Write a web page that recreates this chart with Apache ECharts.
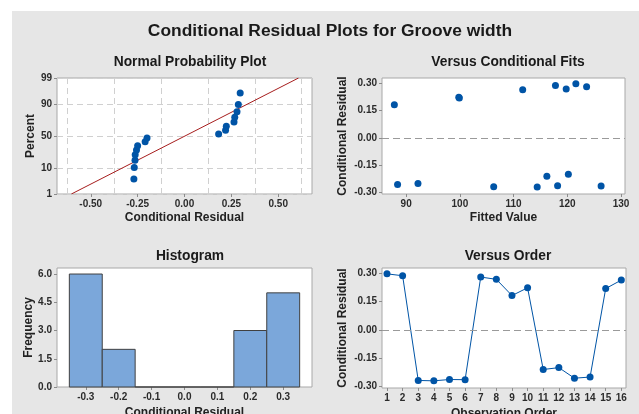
<!DOCTYPE html>
<html>
<head>
<meta charset="utf-8">
<script src="https://cdn.jsdelivr.net/npm/echarts@6/dist/echarts.min.js"></script>
<style>
  html, body { margin: 0; padding: 0; background: #ffffff; }
  #chart { width: 639px; height: 414px; }
</style>
</head>
<body>
<div id="chart"></div>
<script>
// ---- data ----
const observationOrder = [1, 2, 3, 4, 5, 6, 7, 8, 9, 10, 11, 12, 13, 14, 15, 16];
const residuals = [0.297, 0.287, -0.268, -0.270, -0.263, -0.264, 0.280, 0.268,
                   0.182, 0.223, -0.210, -0.200, -0.256, -0.250, 0.219, 0.264];
const fittedValues = [121.6, 117.8, 106.3, 114.4, 118.2, 126.3, 123.6, 119.8,
                      87.8, 99.8, 116.2, 120.2, 88.4, 92.2, 99.9, 111.7];
const histBinCenters = [-0.3, -0.2, -0.1, 0.0, 0.1, 0.2, 0.3];
const histCounts = [6, 2, 0, 0, 0, 3, 5];

// tick labels
const probPercentTicks = [1, 10, 50, 90, 99];
const probResidTicks = [-0.50, -0.25, 0.00, 0.25, 0.50];
const probGridResid = [-0.625, -0.375, -0.125, 0.125, 0.375, 0.625];
const residTicks = [-0.30, -0.15, 0.00, 0.15, 0.30];
const fitTicks = [90, 100, 110, 120, 130];
const freqTicks = [0.0, 1.5, 3.0, 4.5, 6.0];
const histResidTicks = [-0.3, -0.2, -0.1, 0.0, 0.1, 0.2, 0.3];

// ---- normal quantile (Acklam) ----
function qnorm(p) {
  const a = [-3.969683028665376e+01, 2.209460984245205e+02, -2.759285104469687e+02,
             1.383577518672690e+02, -3.066479806614716e+01, 2.506628277459239e+00];
  const b = [-5.447609879822406e+01, 1.615858368580409e+02, -1.556989798598866e+02,
             6.680131188771972e+01, -1.328068155288572e+01];
  const c = [-7.784894002430293e-03, -3.223964580411365e-01, -2.400758277161838e+00,
             -2.549671010115292e+00, 4.374664141464968e+00, 2.938163982698783e+00];
  const d = [7.784695709041462e-03, 3.224671290700398e-01, 2.445134137142996e+00,
             3.754408661907416e+00];
  const pl = 0.02425, ph = 1 - pl;
  let q, r;
  if (p < pl) {
    q = Math.sqrt(-2 * Math.log(p));
    return (((((c[0]*q+c[1])*q+c[2])*q+c[3])*q+c[4])*q+c[5]) / ((((d[0]*q+d[1])*q+d[2])*q+d[3])*q+1);
  }
  if (p <= ph) {
    q = p - 0.5; r = q * q;
    return (((((a[0]*r+a[1])*r+a[2])*r+a[3])*r+a[4])*r+a[5])*q / (((((b[0]*r+b[1])*r+b[2])*r+b[3])*r+b[4])*r+1);
  }
  q = Math.sqrt(-2 * Math.log(1 - p));
  return -(((((c[0]*q+c[1])*q+c[2])*q+c[3])*q+c[4])*q+c[5]) / ((((d[0]*q+d[1])*q+d[2])*q+d[3])*q+1);
}

// probability plot positions (Benard median ranks)
const n = residuals.length;
const sorted = residuals.slice().sort((x, y) => x - y);
const probPoints = sorted.map((r, i) => [r, qnorm((i + 1 - 0.3) / (n + 0.4))]);
const mean = residuals.reduce((s, v) => s + v, 0) / n;
const sd = Math.sqrt(residuals.reduce((s, v) => s + (v - mean) ** 2, 0) / (n - 1));
const zLo = qnorm(probPercentTicks[0] / 100);
const zHi = qnorm(probPercentTicks[probPercentTicks.length - 1] / 100);
const fitLine = [[mean + sd * zLo, zLo], [mean + sd * zHi, zHi]];
const zTicks = probPercentTicks.map(p => qnorm(p / 100));

// ---- styling ----
const FONT = 'Liberation Sans';
const BLUE = '#0054a6';
const labelStyle = { color: '#2b2b2b', fontSize: 10, fontFamily: FONT, fontWeight: 'bold' };
const nameStyle = { color: '#222', fontSize: 12, fontFamily: FONT, fontWeight: 'bold' };
const tickStyle = { show: true, length: 3, lineStyle: { color: '#8c8c8c' } };
const noLine = { show: false, onZero: false };
const dashedGrid = { show: true, lineStyle: { color: '#d0d0d0', type: [6, 4], width: 1 } };

function fmt(d) { return v => Number(v).toFixed(d); }

function xAxisBase(gridIndex, min, max, ticks, digits, name, nameGap) {
  return {
    type: 'value', gridIndex, min, max, position: 'bottom',
    axisLine: noLine,
    axisTick: Object.assign({ customValues: ticks }, tickStyle),
    axisLabel: Object.assign({ customValues: ticks, formatter: fmt(digits), margin: 5 }, labelStyle),
    splitLine: { show: false },
    name, nameLocation: 'middle', nameGap, nameTextStyle: nameStyle
  };
}
function yAxisBase(gridIndex, min, max, ticks, formatter, name, nameGap) {
  return {
    type: 'value', gridIndex, min, max, position: 'left',
    axisLine: noLine,
    axisTick: Object.assign({ customValues: ticks }, tickStyle),
    axisLabel: Object.assign({ customValues: ticks, formatter, margin: 5 }, labelStyle),
    splitLine: { show: false },
    name, nameLocation: 'middle', nameGap, nameTextStyle: nameStyle
  };
}

const gridStyle = {
  show: true, backgroundColor: '#ffffff', borderColor: '#a8a8a8', borderWidth: 1,
  containLabel: false, outerBoundsMode: 'none'
};
const titleText = (text, x, y, size) => ({
  text, left: x, top: y, textAlign: 'center',
  textStyle: { fontFamily: FONT, fontSize: size, fontWeight: 'bold', color: '#1a1a1a' }
});

const probYAxis = yAxisBase(0, zLo, zHi, zTicks,
  v => { const i = zTicks.findIndex(t => Math.abs(t - v) < 1e-6); return i >= 0 ? String(probPercentTicks[i]) : ''; },
  'Percent', 20);
probYAxis.splitLine = dashedGrid;

const probXGrid = {
  type: 'value', gridIndex: 0, min: -0.68, max: 0.68, position: 'bottom',
  axisLine: noLine, axisLabel: { show: false },
  axisTick: { show: false, customValues: probGridResid },
  splitLine: dashedGrid
};

const histItems = histBinCenters.map((c, i) => [c - 0.05, c + 0.05, histCounts[i]]);

const zeroRef = {
  silent: true, symbol: 'none', label: { show: false },
  lineStyle: { color: '#9a9a9a', type: [7, 4], width: 1 },
  data: [{ yAxis: 0 }]
};

const option = {
  backgroundColor: '#ffffff',
  animation: false,
  graphic: [{ type: 'rect', z: -10, silent: true, shape: { x: 12, y: 11, width: 627, height: 403 }, style: { fill: '#e6e6e6' } }],
  title: [
    titleText('Conditional Residual Plots for Groove width', 325, 18, 17.4),
    titleText('Normal Probability Plot', 185, 50, 13.8),
    titleText('Versus Conditional Fits', 503, 50, 13.8),
    titleText('Histogram', 185, 244, 13.8),
    titleText('Versus Order', 503, 244, 13.8)
  ],
  grid: [
    Object.assign({ left: 57, top: 78, width: 255, height: 116 }, gridStyle),
    Object.assign({ left: 382, top: 78, width: 243, height: 116 }, gridStyle),
    Object.assign({ left: 57, top: 268, width: 255, height: 119 }, gridStyle),
    Object.assign({ left: 382, top: 268, width: 244, height: 120 }, gridStyle)
  ],
  xAxis: [
    xAxisBase(0, -0.68, 0.68, probResidTicks, 2, 'Conditional Residual', 18),
    xAxisBase(1, 85.5, 130.75, fitTicks, 0, 'Fitted Value', 18),
    xAxisBase(2, -0.3875, 0.3875, histResidTicks, 1, 'Conditional Residual', 20),
    xAxisBase(3, 0.68, 16.3, observationOrder, 0, 'Observation Order', 20),
    probXGrid
  ],
  yAxis: [
    probYAxis,
    yAxisBase(1, -0.308, 0.328, residTicks, fmt(2), 'Conditional Residual', 33),
    yAxisBase(2, 0, 6.32, freqTicks, fmt(1), 'Frequency', 20),
    yAxisBase(3, -0.308, 0.328, residTicks, fmt(2), 'Conditional Residual', 33)
  ],
  series: [
    {
      type: 'line', xAxisIndex: 0, yAxisIndex: 0, data: fitLine,
      showSymbol: false, lineStyle: { color: '#a61d1d', width: 1 }, z: 2
    },
    {
      type: 'scatter', xAxisIndex: 0, yAxisIndex: 0, data: probPoints,
      symbolSize: 7, itemStyle: { color: BLUE, opacity: 1 }, z: 3
    },
    {
      type: 'scatter', xAxisIndex: 1, yAxisIndex: 1,
      data: fittedValues.map((f, i) => [f, residuals[i]]),
      symbolSize: 7, itemStyle: { color: BLUE, opacity: 1 },
      markLine: zeroRef
    },
    {
      type: 'custom', xAxisIndex: 2, yAxisIndex: 2, data: histItems,
      renderItem: (params, api) => {
        const p0 = api.coord([api.value(0), api.value(2)]);
        const p1 = api.coord([api.value(1), 0]);
        return {
          type: 'rect',
          shape: { x: p0[0], y: p0[1], width: p1[0] - p0[0], height: p1[1] - p0[1] },
          style: { fill: '#7ba7da', stroke: '#404040', lineWidth: 1 }
        };
      }
    },
    {
      type: 'line', xAxisIndex: 3, yAxisIndex: 3,
      data: observationOrder.map((o, i) => [o, residuals[i]]),
      symbol: 'circle', symbolSize: 7,
      lineStyle: { color: BLUE, width: 1 }, itemStyle: { color: BLUE },
      markLine: zeroRef
    }
  ]
};

const chart = echarts.init(document.getElementById('chart'), null, { renderer: 'canvas' });
chart.setOption(option);
</script>
</body>
</html>
